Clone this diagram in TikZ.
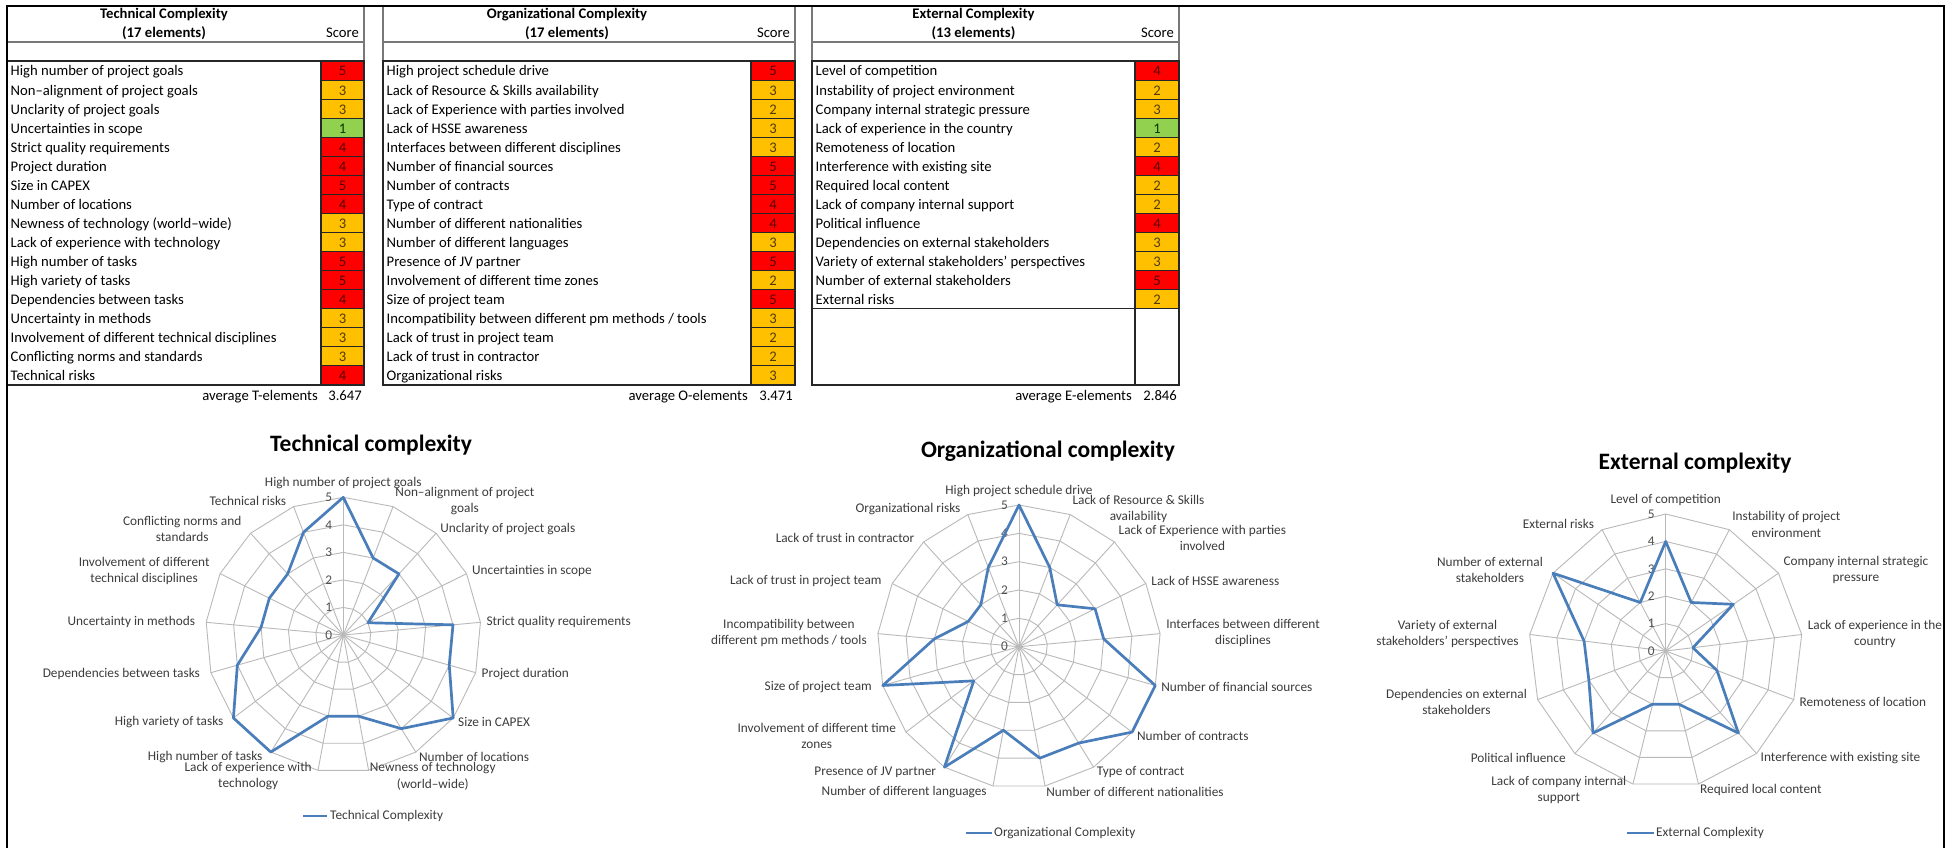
\documentclass[tikz,border=0pt]{standalone}
\usepackage{fontspec}
\setmainfont{Carlito}
\usetikzlibrary{calc}

\definecolor{cellred}{RGB}{255,0,0}
\definecolor{cellorange}{RGB}{255,192,0}
\definecolor{cellgreen}{RGB}{146,208,80}
\definecolor{digitred}{RGB}{90,0,0}
\definecolor{digitorange}{RGB}{80,60,0}
\definecolor{digitgreen}{RGB}{0,60,0}
\definecolor{gridgray}{RGB}{185,185,185}
\definecolor{seriesblue}{RGB}{74,126,187}
\definecolor{labelgray}{RGB}{60,60,60}
\definecolor{tickgray}{RGB}{80,80,80}
\definecolor{headgray}{RGB}{120,120,120}

\tikzset{
  frameline/.style={line width=2pt, black},
  headrule/.style={line width=1.4pt, headgray},
  boxrule/.style={line width=1.2pt, black!85},
  cellrule/.style={line width=1pt, black!85},
  celltext/.style={inner sep=0pt, font=\fontsize{14.67}{17}\selectfont},
  headtext/.style={inner sep=0pt, font=\fontsize{14.67}{17}\selectfont\bfseries},
  gridline/.style={line width=0.9pt, gridgray},
  seriesline/.style={line width=2.7pt, seriesblue, line join=round},
  axislabel/.style={inner sep=0pt, align=center, text=labelgray, font=\fontsize{13.3}{16.2}\selectfont},
  ticklabel/.style={inner sep=0pt, text=tickgray, font=\fontsize{13.3}{16}\selectfont},
  charttitle/.style={inner sep=0pt, font=\fontsize{23.5}{28}\selectfont\bfseries},
}

% Score table: #1 key, #2 left x, #3 score column x, #4 right x, #5 heading,
% #6 rows as score/name, #7 number of rows, #8 average label, #9 average value
\newcommand{\complexitytable}[9]{%
  \draw[headrule] (#2,6) rectangle (#4,42);
  \draw[headrule] (#2,42) rectangle (#4,61);
  \node[headtext] (#1-head) at ({(#2+#3)/2},15) {#5};
  \node[headtext] (#1-count) at ({(#2+#3)/2},33.5) {(#7 elements)};
  \node[celltext, anchor=base east] (#1-scorehead) at (#4-5,38) {Score};
  \foreach \s/\n [count=\k from 0] in {#6}{%
    \ifnum\s>3 \def\cfill{cellred}\def\cdigit{digitred}%
    \else\ifnum\s>1 \def\cfill{cellorange}\def\cdigit{digitorange}%
    \else \def\cfill{cellgreen}\def\cdigit{digitgreen}\fi\fi
    \pgfmathsetmacro\yt{61+19.05*\k}%
    \filldraw[cellrule, fill=\cfill] (#3,\yt) rectangle (#4,\yt+19.05);
    \node[celltext, anchor=base west] (#1-n\k) at (#2+3.5,\yt+15) {\n};
    \node[celltext, anchor=base, text=\cdigit] (#1-s\k) at ({(#3+#4)/2},\yt+15) {\s};
  }
  \pgfmathsetmacro\yend{61+19.05*#7}%
  \draw[boxrule] (#2,61) rectangle (#4,385);
  \draw[boxrule] (#3,61) -- (#3,385);
  \draw[boxrule] (#2,\yend) -- (#3,\yend);
  \node[celltext, anchor=base east] (#1-avglabel) at (#3-3,400) {#8};
  \node[celltext, anchor=base east] (#1-avg) at (#4-2,400) {#9};
}

% Radar chart: #1 key, #2 centre x, #3 centre y, #4 radius, #5 number of axes,
% #6 values, #7 axis labels
\newcommand{\radarchart}[7]{%
  \coordinate (#1-c) at (#2,#3);
  \pgfmathtruncatemacro\nlast{#5-1}%
  \foreach \lv in {1,...,5}{%
    \draw[gridline] (#2,{#3-\lv*#4/5}) \foreach \i in {1,...,\nlast}{ -- ({#2+\lv*#4/5*sin(\i*360/#5)},{#3-\lv*#4/5*cos(\i*360/#5)}) } -- cycle;
  }
  \foreach \i in {0,...,\nlast}{%
    \coordinate (#1-o\i) at ({#2+#4*sin(\i*360/#5)},{#3-#4*cos(\i*360/#5)});
    \draw[gridline] (#1-c) -- (#1-o\i);
  }
  \foreach \lv in {0,...,5}{%
    \node[ticklabel, anchor=east] (#1-t\lv) at ({#2-11},{#3-\lv*#4/5}) {\lv};
  }
  \foreach \v [count=\i from 0] in {#6}{%
    \coordinate (#1-p\i) at ({#2+\v*#4/5*sin(\i*360/#5)},{#3-\v*#4/5*cos(\i*360/#5)});
  }
  \draw[seriesline] (#1-p0) \foreach \i in {1,...,\nlast}{ -- (#1-p\i)} -- cycle;
  \foreach \lab [count=\i from 0] in {#7}{%
    \pgfmathsetmacro\rsx{sin(\i*360/#5)}%
    \pgfmathsetmacro\rcy{cos(\i*360/#5)}%
    \pgfmathsetmacro\rlx{#2+(#4+6)*\rsx}%
    \pgfmathsetmacro\rly{#3-(#4+6)*\rcy}%
    \ifdim\rsx pt>0.01pt
      \node[axislabel, anchor=west] (#1-l\i) at (\rlx,\rly) {\lab};
    \else\ifdim\rsx pt<-0.01pt
      \node[axislabel, anchor=east] (#1-l\i) at (\rlx-5,\rly) {\lab};
    \else
      \node[axislabel, anchor=south] (#1-l\i) at (\rlx,{#3-#4-8}) {\lab};
    \fi\fi
  }
}

\begin{document}
\begin{tikzpicture}[x=1pt,y=-1pt]
\fill[white] (0,0) rectangle (1954,848);
\useasboundingbox (0,0) rectangle (1954,848);

% ---- score tables ----
\complexitytable{tt}{7}{321}{364}{Technical Complexity}{%
5/High number of project goals,
3/Non–alignment of project goals,
3/Unclarity of project goals,
1/Uncertainties in scope,
4/Strict quality requirements,
4/Project duration,
5/Size in CAPEX,
4/Number of locations,
3/Newness of technology (world–wide),
3/Lack of experience with technology,
5/High number of tasks,
5/High variety of tasks,
4/Dependencies between tasks,
3/Uncertainty in methods,
3/Involvement of different technical disciplines,
3/Conflicting norms and standards,
4/Technical risks}{17}{average T-elements}{3.647}

\complexitytable{ot}{383}{751}{795}{Organizational Complexity}{%
5/High project schedule drive,
3/Lack of Resource \& Skills availability,
2/Lack of Experience with parties involved,
3/Lack of HSSE awareness,
3/Interfaces between different disciplines,
5/Number of financial sources,
5/Number of contracts,
4/Type of contract,
4/Number of different nationalities,
3/Number of different languages,
5/Presence of JV partner,
2/Involvement of different time zones,
5/Size of project team,
3/{Incompatibility between different pm methods / tools},
2/Lack of trust in project team,
2/Lack of trust in contractor,
3/Organizational risks}{17}{average O-elements}{3.471}

\complexitytable{et}{812}{1135}{1179}{External Complexity}{%
4/Level of competition,
2/Instability of project environment,
3/Company internal strategic pressure,
1/Lack of experience in the country,
2/Remoteness of location,
4/Interference with existing site,
2/Required local content,
2/Lack of company internal support,
4/Political influence,
3/Dependencies on external stakeholders,
3/Variety of external stakeholders' perspectives,
5/Number of external stakeholders,
2/External risks}{13}{average E-elements}{2.846}

% ---- radar charts ----
\node[charttitle] (tech-title) at (371,445) {Technical complexity};
\radarchart{tech}{343.3}{635}{137.7}{17}{5,3,3,1,4,4,5,4,3,3,5,5,4,3,3,3,4}{%
{High number of project goals},
{Non–alignment of project\\goals},
{Unclarity of project goals},
{Uncertainties in scope},
{Strict quality requirements},
{Project duration},
{Size in CAPEX},
{Number of locations},
{Newness of technology\\(world–wide)},
{Lack of experience with\\technology},
{High number of tasks},
{High variety of tasks},
{Dependencies between tasks},
{Uncertainty in methods},
{Involvement of different\\technical disciplines},
{Conflicting norms and\\standards},
{Technical risks}}
\coordinate (tech-k1) at (303,816);
\coordinate (tech-k2) at (327,816);
\draw[seriesline] (tech-k1) -- (tech-k2);
\node[axislabel, anchor=west] (tech-key) at (330,816) {Technical Complexity};

\node[charttitle] (org-title) at (1048,451) {Organizational complexity};
\radarchart{org}{1019}{646.7}{141.7}{17}{5,3,2,3,3,5,5,4,4,3,5,2,5,3,2,2,3}{%
{High project schedule drive},
{Lack of Resource \& Skills\\availability},
{Lack of Experience with parties\\involved},
{Lack of HSSE awareness},
{Interfaces between different\\disciplines},
{Number of financial sources},
{Number of contracts},
{Type of contract},
{Number of different nationalities},
{Number of different languages},
{Presence of JV partner},
{Involvement of different time\\zones},
{Size of project team},
{Incompatibility between\\different pm methods / tools},
{Lack of trust in project team},
{Lack of trust in contractor},
{Organizational risks}}
\coordinate (org-k1) at (966,833);
\coordinate (org-k2) at (992,833);
\draw[seriesline] (org-k1) -- (org-k2);
\node[axislabel, anchor=west] (org-key) at (994,833) {Organizational Complexity};

\node[charttitle] (ext-title) at (1695,463) {External complexity};
\radarchart{ext}{1665.7}{651}{137}{13}{4,2,3,1,2,4,2,2,4,3,3,5,2}{%
{Level of competition},
{Instability of project\\environment},
{Company internal strategic\\pressure},
{Lack of experience in the\\country},
{Remoteness of location},
{Interference with existing site},
{Required local content},
{Lack of company internal\\support},
{Political influence},
{Dependencies on external\\stakeholders},
{Variety of external\\stakeholders' perspectives},
{Number of external\\stakeholders},
{External risks}}
\coordinate (ext-k1) at (1627,833);
\coordinate (ext-k2) at (1654,833);
\draw[seriesline] (ext-k1) -- (ext-k2);
\node[axislabel, anchor=west] (ext-key) at (1656,833) {External Complexity};

% ---- outer frame ----
\draw[frameline] (7,850) -- (7,6) -- (1944,6) -- (1944,850);
\end{tikzpicture}
\end{document}
